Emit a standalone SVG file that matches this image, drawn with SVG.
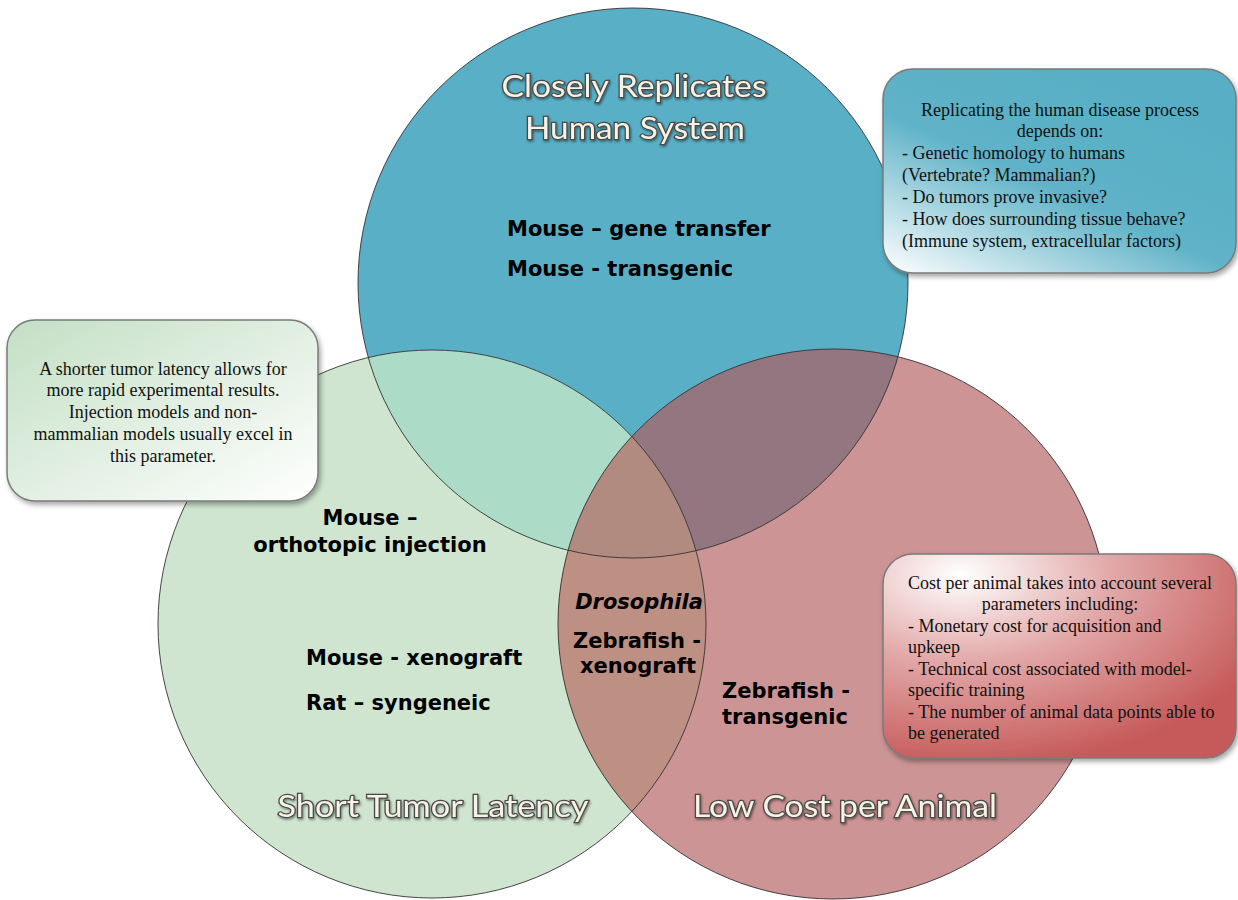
<svg xmlns="http://www.w3.org/2000/svg" width="1238" height="900" viewBox="0 0 1238 900">
<defs>
  <clipPath id="cpGreen"><circle cx="432" cy="624" r="274"/></clipPath>
  <clipPath id="cpRed"><circle cx="833" cy="624" r="275"/></clipPath>
  <clipPath id="cpBlue"><circle cx="633" cy="283" r="275"/></clipPath>
  <linearGradient id="gBlue" x1="0" y1="1" x2="0.7" y2="0.1">
    <stop offset="0" stop-color="#ffffff"/>
    <stop offset="0.55" stop-color="#5fb2c7"/>
    <stop offset="1" stop-color="#58afc5"/>
  </linearGradient>
  <linearGradient id="gGreen" x1="0" y1="0" x2="1" y2="1">
    <stop offset="0" stop-color="#c3dfc4"/>
    <stop offset="1" stop-color="#ffffff"/>
  </linearGradient>
  <radialGradient id="gRed" cx="0.22" cy="0.1" r="0.95" fx="0.22" fy="0.1">
    <stop offset="0" stop-color="#ffffff"/>
    <stop offset="0.45" stop-color="#e2a8a8"/>
    <stop offset="1" stop-color="#c65a5a"/>
  </radialGradient>
  <filter id="boxShadow" x="-10%" y="-10%" width="125%" height="130%">
    <feDropShadow dx="2" dy="3" stdDeviation="2.5" flood-color="#000" flood-opacity="0.35"/>
  </filter>
  <filter id="titleShadow" x="-5%" y="-20%" width="110%" height="150%">
    <feDropShadow dx="1" dy="1.5" stdDeviation="1" flood-color="#000" flood-opacity="0.45"/>
  </filter>
</defs>
<style>
  .outline { fill: none; stroke: #333333; stroke-width: 1; stroke-opacity: 0.9; }
  .title { font-family: Lato, "Open Sans", sans-serif; font-size: 31px; fill: #f6f3e5; stroke: #4a4a4a; stroke-width: 2.4px; paint-order: stroke; text-anchor: middle; filter: url(#titleShadow); }
  .lbl { font-family: "DejaVu Sans", Verdana, sans-serif; font-weight: bold; font-size: 21px; fill: #000; }
  .mid { text-anchor: middle; }
  .note { font-family: "Liberation Serif", "Times New Roman", serif; font-size: 18px; fill: #111; }
  .box { stroke: #7a7a7a; stroke-width: 1.5; filter: url(#boxShadow); }
</style>

<g id="circles">
  <g id="circle-blue"><circle cx="633" cy="283" r="275" fill="#59afc5"/></g>
  <g id="circle-green"><circle cx="432" cy="624" r="274" fill="#cfe5cf"/></g>
  <g id="circle-red"><circle cx="833" cy="624" r="275" fill="#cc9494"/></g>
  <g clip-path="url(#cpGreen)"><circle cx="633" cy="283" r="275" fill="#acdcc8"/></g>
  <g clip-path="url(#cpRed)"><circle cx="633" cy="283" r="275" fill="#947680"/></g>
  <g clip-path="url(#cpRed)"><circle cx="432" cy="624" r="274" fill="#be8f83"/></g>
  <g clip-path="url(#cpBlue)"><g clip-path="url(#cpRed)"><circle cx="432" cy="624" r="274" fill="#b18b80"/></g></g>
  <circle class="outline" cx="633" cy="283" r="275"/>
  <circle class="outline" cx="432" cy="624" r="274"/>
  <circle class="outline" cx="833" cy="624" r="275"/>
</g>

<g id="titles">
  <text class="title" x="634" y="97" textLength="265" lengthAdjust="spacingAndGlyphs">Closely Replicates</text>
  <text class="title" x="635" y="139" textLength="220" lengthAdjust="spacingAndGlyphs">Human System</text>
  <text class="title" x="433" y="817" textLength="311" lengthAdjust="spacingAndGlyphs">Short Tumor Latency</text>
  <text class="title" x="845" y="817" textLength="304" lengthAdjust="spacingAndGlyphs">Low Cost per Animal</text>
</g>

<g id="labels">
  <g id="lbl-blue">
    <text class="lbl" x="507" y="236">Mouse – gene transfer</text>
    <text class="lbl" x="507" y="276">Mouse - transgenic</text>
  </g>
  <g id="lbl-green-blue">
    <text class="lbl mid" x="370" y="525">Mouse –</text>
    <text class="lbl mid" x="370" y="552">orthotopic injection</text>
  </g>
  <g id="lbl-green">
    <text class="lbl" x="306" y="665">Mouse - xenograft</text>
    <text class="lbl" x="306" y="710">Rat – syngeneic</text>
  </g>
  <g id="lbl-center">
    <text class="lbl mid" x="639" y="609" font-style="italic">Drosophila</text>
    <text class="lbl mid" x="637" y="648">Zebrafish -</text>
    <text class="lbl mid" x="638" y="673">xenograft</text>
  </g>
  <g id="lbl-red">
    <text class="lbl" x="722" y="698">Zebrafish -</text>
    <text class="lbl" x="722" y="724">transgenic</text>
  </g>
</g>

<g id="box-blue">
  <rect class="box" x="883" y="69" width="353" height="204" rx="30" fill="url(#gBlue)"/>
  <text class="note mid" x="1060" y="116">Replicating the human disease process</text>
  <text class="note mid" x="1060" y="137">depends on:</text>
  <text class="note" x="902" y="159">- Genetic homology to humans</text>
  <text class="note" x="902" y="181">(Vertebrate? Mammalian?)</text>
  <text class="note" x="902" y="203">- Do tumors prove invasive?</text>
  <text class="note" x="902" y="225">- How does surrounding tissue behave?</text>
  <text class="note" x="902" y="247">(Immune system, extracellular factors)</text>
</g>

<g id="box-green">
  <rect class="box" x="7" y="320" width="311" height="181" rx="28" fill="url(#gGreen)"/>
  <text class="note mid" x="163" y="375">A shorter tumor latency allows for</text>
  <text class="note mid" x="163" y="396">more rapid experimental results.</text>
  <text class="note mid" x="163" y="418">Injection models and non-</text>
  <text class="note mid" x="163" y="440">mammalian models usually excel in</text>
  <text class="note mid" x="163" y="462">this parameter.</text>
</g>

<g id="box-red">
  <rect class="box" x="883" y="554" width="353" height="204" rx="30" fill="url(#gRed)"/>
  <text class="note mid" x="1060" y="589">Cost per animal takes into account several</text>
  <text class="note mid" x="1060" y="610">parameters including:</text>
  <text class="note" x="908" y="632">- Monetary cost for acquisition and</text>
  <text class="note" x="908" y="653">upkeep</text>
  <text class="note" x="908" y="675">- Technical cost associated with model-</text>
  <text class="note" x="908" y="696">specific training</text>
  <text class="note" x="908" y="718">- The number of animal data points able to</text>
  <text class="note" x="908" y="739">be generated</text>
</g>
</svg>
